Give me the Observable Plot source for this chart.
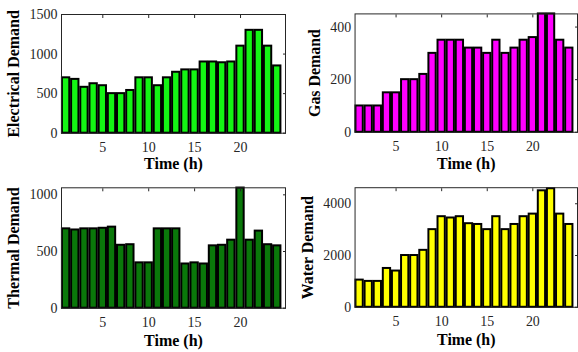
<!DOCTYPE html>
<html>
<head>
<meta charset="utf-8">
<script src="https://cdn.jsdelivr.net/npm/d3@7"></script>
<script src="https://cdn.jsdelivr.net/npm/@observablehq/plot@0.6"></script>
<style>
  html, body { margin: 0; padding: 0; background: #fff; overflow: hidden; }
  #wrap { position: relative; width: 578px; height: 352px; overflow: hidden; }
  .panel { position: absolute; }
</style>
</head>
<body>
<div id="wrap"></div>
<script>
const hours = d3.range(1, 25);
const electrical = [700, 680, 580, 625, 600, 500, 500, 540, 700, 700, 600, 700, 770, 800, 800, 900, 900, 890, 900, 1100, 1300, 1300, 1100, 850];
const gas = [100, 100, 100, 150, 150, 200, 200, 220, 300, 350, 350, 350, 320, 320, 300, 350, 300, 320, 350, 360, 450, 450, 350, 320];
const thermal = [700, 690, 700, 700, 705, 715, 555, 560, 400, 400, 700, 700, 700, 390, 400, 390, 550, 555, 600, 1060, 600, 680, 560, 550];
const water = [1050, 1000, 1000, 1500, 1400, 2000, 2000, 2200, 3000, 3500, 3450, 3500, 3230, 3200, 3000, 3500, 3000, 3200, 3500, 3600, 4500, 4580, 3600, 3200];

const xTicks = [5, 10, 15, 20];
const xTitle = "Time (h)";
const panels = [
  {values: electrical, label: "Electrical Demand", fill: "#14f514", yDomain: [0, 1500], yTicks: [0, 500, 1000, 1500],
   left: 0, top: 0, width: 290, height: 176, mt: 14, mb: 43.3, ml: 61, mr: 5, ldx: -48, xdy: 31},
  {values: gas, label: "Gas Demand", fill: "#ff00ff", yDomain: [0, 450], yTicks: [0, 200, 400],
   left: 290, top: 0, width: 290, height: 176, mt: 13.5, mb: 43.3, ml: 65, mr: 1, ldx: -40, xdy: 32},
  {values: thermal, label: "Thermal Demand", fill: "#0a780a", yDomain: [0, 1062], yTicks: [0, 500, 1000],
   left: 0, top: 175, width: 290, height: 177, mt: 12.3, mb: 44.3, ml: 61, mr: 5, ldx: -48, xdy: 33},
  {values: water, label: "Water Demand", fill: "#ffff00", yDomain: [0, 4620], yTicks: [0, 2000, 4000],
   left: 290, top: 175, width: 290, height: 177, mt: 12.3, mb: 44.3, ml: 65, mr: 1, ldx: -47, xdy: 33}
];

const font = "'Liberation Serif', 'Times New Roman', serif";
const wrap = document.getElementById("wrap");
for (const p of panels) {
  const data = hours.map((h, i) => ({h, v: p.values[i]}));
  const chart = Plot.plot({
    width: p.width,
    height: p.height,
    marginTop: p.mt, marginBottom: p.mb, marginLeft: p.ml, marginRight: p.mr,
    style: {fontFamily: font, fontSize: "14px", color: "#262626", background: "transparent", overflow: "visible"},
    x: {domain: [0.5, 24.9]},
    y: {domain: p.yDomain},
    marks: [
      Plot.rectY(data, {x1: d => d.h - 0.4, x2: d => d.h + 0.4, y1: 0, y2: "v", fill: p.fill, stroke: "#000", strokeWidth: 2}),
      Plot.axisX(xTicks, {anchor: "bottom", tickSize: 0, tickPadding: 9, fontSize: 14, tickFormat: "d", label: null}),
      Plot.axisX(xTicks, {anchor: "top", tickSize: -3, tickFormat: () => "", label: null}),
      Plot.axisY(p.yTicks, {anchor: "left", tickSize: 0, tickPadding: 4, fontSize: 14, tickFormat: "d", label: null}),
      Plot.axisY(p.yTicks, {anchor: "right", tickSize: -3, tickFormat: () => "", label: null}),
      Plot.frame({stroke: "#262626", strokeWidth: 1}),
      Plot.text([xTitle], {text: d => d, frameAnchor: "bottom", dy: p.xdy, lineAnchor: "middle", fontWeight: "bold", fontSize: 16, fill: "#000"}),
      Plot.text([p.label], {text: d => d, frameAnchor: "left", dx: p.ldx, rotate: -90, textAnchor: "middle", lineAnchor: "middle", fontWeight: "bold", fontSize: 16, fill: "#000"})
    ]
  });
  const div = document.createElement("div");
  div.className = "panel";
  div.style.left = p.left + "px";
  div.style.top = p.top + "px";
  div.appendChild(chart);
  wrap.appendChild(div);
}
</script>
</body>
</html>
